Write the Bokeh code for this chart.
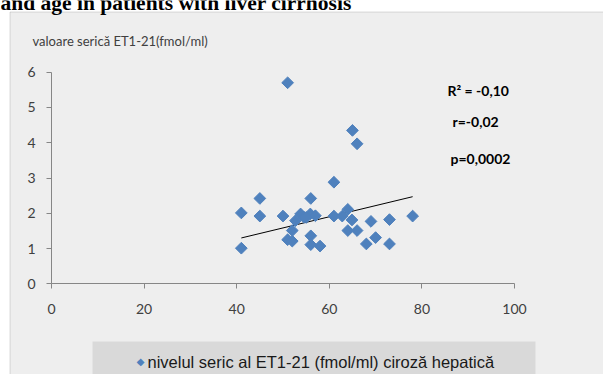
from bokeh.plotting import figure
from bokeh.models import Range1d, FixedTicker, Label, BoxAnnotation
from bokeh.embed import file_html
from bokeh.resources import INLINE

# ---- data ----
age = [51, 65, 66, 61, 45, 56, 41, 45, 50, 53.8, 54.5, 55.9, 57, 52.7, 55,
       61, 62.8, 64, 64.9, 69, 73, 78, 52, 64, 66, 51, 52, 56, 56, 58, 68, 70, 73, 41]
et1 = [5.7, 4.35, 3.97, 2.88, 2.42, 2.42, 2.01, 1.92, 1.92, 1.98, 1.89, 1.98, 1.93, 1.79, 1.88,
       1.92, 1.92, 2.11, 1.81, 1.77, 1.82, 1.92, 1.51, 1.51, 1.51, 1.25, 1.21, 1.36, 1.11, 1.07, 1.13, 1.31, 1.13, 1.01]
trend_x = [41, 78]
trend_y = [1.30, 2.47]
x_ticks = [0, 20, 40, 60, 80, 100]
y_ticks = [0, 1, 2, 3, 4, 5, 6]

title_text = "and age in patients with liver cirrhosis"
ylabel_text = "valoare serică ET1-21(fmol/ml)"
stats_text = ["R² = -0,10", "r=-0,02", "p=0,0002"]
legend_text = "nivelul seric al ET1-21 (fmol/ml) ciroză hepatică"

# ---- layout constants (pixels) ----
W, H = 603, 374
X0_PX, X100_PX = 51.0, 514.0      # where x=0 and x=100 fall
Y0_PX, Y6_PX = 283.3, 71.7        # where y=0 and y=6 fall
sx = (X100_PX - X0_PX) / 100.0
sy = (Y0_PX - Y6_PX) / 6.0

p = figure(width=W, height=H, output_backend="svg", toolbar_location=None,
           x_range=Range1d(-X0_PX / sx, (W - X0_PX) / sx),
           y_range=Range1d((Y0_PX - H) / sy, Y0_PX / sy),
           min_border=0)
p.background_fill_color = "white"
p.border_fill_color = "white"
p.outline_line_color = None
p.xgrid.visible = False
p.ygrid.visible = False

def scr(px, py):
    return px, H - py

def box(l, r, t, b, **kw):
    return BoxAnnotation(left=l, right=r, top=H - t, bottom=H - b,
                         left_units="screen", right_units="screen",
                         top_units="screen", bottom_units="screen", **kw)

# chart area (light gray panel with gray border)
p.add_layout(box(9.5, 800, 11.5, 500, fill_color="#eeeeee", fill_alpha=1.0,
                 line_color="#8a8a8a", line_width=1, level="underlay"))
# legend box
p.add_layout(box(92, 535, 341, 420, fill_color="#d9d9d9", fill_alpha=1.0,
                 line_color=None, level="underlay"))

p.xaxis.fixed_location = 0
p.yaxis.fixed_location = 0
p.xaxis.bounds = (x_ticks[0], x_ticks[-1])
p.yaxis.bounds = (y_ticks[0], y_ticks[-1])
for ax in (p.xaxis[0], p.yaxis[0]):
    ax.axis_line_color = "#868686"
    ax.major_tick_line_color = "#868686"
    ax.major_tick_in = 0
    ax.major_tick_out = 5
    ax.minor_tick_line_color = None
    ax.major_label_text_font = "Lato"
    ax.major_label_text_font_size = "14px"
    ax.major_label_text_color = "#404040"
p.xaxis.ticker = FixedTicker(ticks=x_ticks)
p.yaxis.ticker = FixedTicker(ticks=y_ticks)
p.xaxis.major_label_standoff = 15
p.yaxis.major_label_standoff = 11

p.line(trend_x, trend_y, line_color="black", line_width=1)
p.scatter(age, et1, marker="square", angle=0.785398, size=8.3, fill_color="#4f81bd",
          line_color="#4f81bd")

def label(px, py, text, **kw):
    x, y = scr(px, py)
    p.add_layout(Label(x=x, y=y, x_units="screen", y_units="screen", text=text, **kw))

# title (cut off at the top in the reference)
label(0, 2, title_text, text_font="Liberation Serif", text_font_style="bold",
      text_font_size="21.5px", text_color="black", text_baseline="alphabetic", text_align="left")

# y axis title
label(32, 40, ylabel_text, text_font="Lato", text_font_size="13px", text_color="#404040",
      text_baseline="middle", text_align="left")

# statistics
for (px, py), t in zip([(447, 90), (452, 121), (450, 158)], stats_text):
    label(px, py, t, text_font="Lato", text_font_style="bold", text_font_size="14px",
          text_color="black", text_baseline="middle", text_align="left")

# legend entry
label(140, 361, "◆", text_font="DejaVu Sans", text_font_size="10px", text_color="#4f81bd",
      text_baseline="middle", text_align="center")
label(147, 361, legend_text, text_font="Liberation Sans", text_font_size="16.5px",
      text_color="#1a1a1a", text_baseline="middle", text_align="left")

open("out.html", "w").write(file_html(p, INLINE))
